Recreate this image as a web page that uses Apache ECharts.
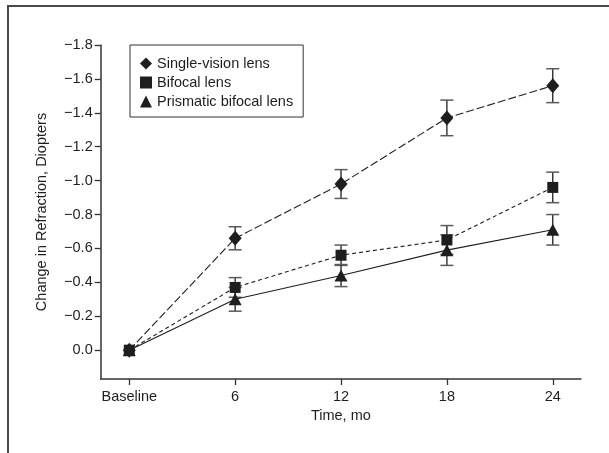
<!DOCTYPE html>
<html>
<head>
<meta charset="utf-8">
<script src="https://cdn.jsdelivr.net/npm/echarts@6/dist/echarts.min.js"></script>
<style>html,body{margin:0;padding:0;background:#fff;}#c{width:609px;height:453px;}</style>
</head>
<body>
<div id="c"></div>
<script>
const months = [0, 6, 12, 18, 24];
const xTickLabels = ['Baseline', '6', '12', '18', '24'];
const yTicks = [-1.8, -1.6, -1.4, -1.2, -1.0, -0.8, -0.6, -0.4, -0.2, 0.0];

const singleVision = [0, -0.66, -0.98, -1.37, -1.56];
const singleVisionErr = [0, 0.068, 0.085, 0.105, 0.10];
const bifocal = [0, -0.37, -0.56, -0.65, -0.96];
const bifocalErr = [0, 0.058, 0.06, 0.085, 0.09];
const prismatic = [0, -0.30, -0.44, -0.59, -0.71];
const prismaticErr = [0, 0.07, 0.065, 0.09, 0.09];

const seriesNames = ['Single-vision lens', 'Bifocal lens', 'Prismatic bifocal lens'];

const FONT = "'Liberation Sans', Arial, sans-serif";
const FS = 14.5;
const INK = '#1e1e1e';

function pts(vals) { return months.map((m, i) => [m, vals[i]]); }
function errData(vals, errs) {
  return months.map((m, i) => [m, vals[i] - errs[i], vals[i] + errs[i]]).filter((d, i) => errs[i] > 0);
}
function fmtY(v) {
  const s = Math.abs(v).toFixed(1);
  return v < -1e-9 ? '\u2212' + s : s;
}
function errSeries(name, vals, errs) {
  return {
    type: 'custom',
    name: name + ' err',
    data: errData(vals, errs),
    z: 1,
    renderItem: function (params, api) {
      const top = api.coord([api.value(0), api.value(1)]);
      const bot = api.coord([api.value(0), api.value(2)]);
      const hw = 6.5;
      return {
        type: 'group',
        children: [
          { type: 'line', shape: { x1: top[0], y1: top[1], x2: bot[0], y2: bot[1] }, style: { stroke: INK, lineWidth: 1.3 } },
          { type: 'line', shape: { x1: top[0] - hw, y1: top[1], x2: top[0] + hw, y2: top[1] }, style: { stroke: '#5a5a5a', lineWidth: 1.5 } },
          { type: 'line', shape: { x1: bot[0] - hw, y1: bot[1], x2: bot[0] + hw, y2: bot[1] }, style: { stroke: '#5a5a5a', lineWidth: 1.5 } }
        ]
      };
    }
  };
}

const chart = echarts.init(document.getElementById('c'), null, { renderer: 'canvas' });
chart.setOption({
  animation: false,
  backgroundColor: '#fff',
  textStyle: { fontFamily: FONT },
  graphic: [{
    type: 'rect',
    shape: { x: 8, y: 6, width: 800, height: 800 },
    style: { fill: 'none', stroke: '#4a4a4a', lineWidth: 2 },
    silent: true
  }],
  grid: { left: 100.7, top: 45, width: 480.3, height: 334, containLabel: false },
  legend: {
    orient: 'vertical',
    left: 130, top: 45,
    padding: [11, 10, 8, 10],
    itemGap: 4,
    itemWidth: 12, itemHeight: 12,
    itemStyle: { color: INK },
    borderColor: '#333', borderWidth: 1,
    backgroundColor: '#fff',
    textStyle: { fontFamily: FONT, fontSize: FS, color: INK },
    data: [
      { name: seriesNames[0], icon: 'diamond' },
      { name: seriesNames[1], icon: 'path://M1,1 L11,1 L11,11 L1,11 Z' },
      { name: seriesNames[2], icon: 'triangle' }
    ]
  },
  xAxis: {
    type: 'value',
    min: -1.62, max: 25.6,
    name: 'Time, mo',
    nameLocation: 'middle',
    nameGap: 29,
    nameTextStyle: { fontFamily: FONT, fontSize: FS, color: INK },
    axisLine: { onZero: false, lineStyle: { color: '#333', width: 1.5 } },
    axisTick: { length: 6, lineStyle: { color: '#333', width: 1.3 }, customValues: months },
    axisLabel: {
      fontFamily: FONT, fontSize: FS, color: INK, margin: 10,
      customValues: months,
      formatter: function (v) { const i = months.indexOf(Math.round(v)); return i >= 0 ? xTickLabels[i] : ''; }
    },
    splitLine: { show: false }
  },
  yAxis: {
    type: 'value',
    inverse: true,
    min: -1.8, max: 0.17,
    name: 'Change in Refraction, Diopters',
    nameLocation: 'middle',
    nameGap: 51,
    nameRotate: 90,
    nameTextStyle: { fontFamily: FONT, fontSize: FS, color: INK },
    axisLine: { show: true, onZero: false, lineStyle: { color: '#333', width: 1.5 } },
    axisTick: { show: true, length: 6, lineStyle: { color: '#333', width: 1.3 }, customValues: yTicks },
    axisLabel: {
      fontFamily: FONT, fontSize: FS, color: INK, margin: 8,
      customValues: yTicks,
      formatter: fmtY
    },
    splitLine: { show: false }
  },
  series: [
    errSeries(seriesNames[0], singleVision, singleVisionErr),
    errSeries(seriesNames[1], bifocal, bifocalErr),
    errSeries(seriesNames[2], prismatic, prismaticErr),
    {
      type: 'line', name: seriesNames[2], data: pts(prismatic), z: 3,
      symbol: 'triangle', symbolSize: [13, 12],
      lineStyle: { color: INK, width: 1.1, type: 'solid' },
      itemStyle: { color: INK }
    },
    {
      type: 'line', name: seriesNames[1], data: pts(bifocal), z: 3,
      symbol: 'rect', symbolSize: 11,
      lineStyle: { color: INK, width: 1.1, type: [4, 3] },
      itemStyle: { color: INK }
    },
    {
      type: 'line', name: seriesNames[0], data: pts(singleVision), z: 3,
      symbol: 'diamond', symbolSize: [13, 15],
      lineStyle: { color: INK, width: 1.1, type: [8, 3] },
      itemStyle: { color: INK }
    }
  ]
});
</script>
</body>
</html>
